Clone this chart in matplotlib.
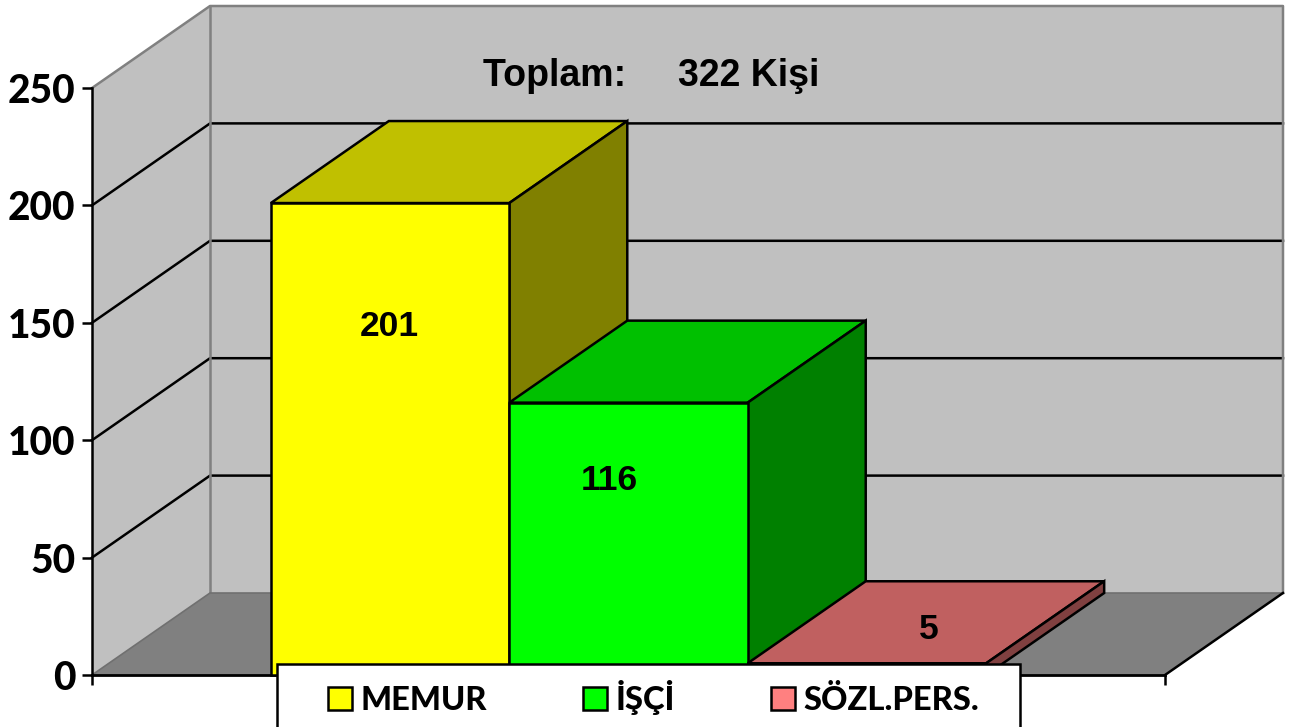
import matplotlib
matplotlib.use("Agg")
import matplotlib.pyplot as plt
from matplotlib.patches import Polygon, Patch, Rectangle

# chart data
categories = ["MEMUR", "İŞÇİ", "SÖZL.PERS."]
values = [201, 116, 5]
yticks = [0, 50, 100, 150, 200, 250]
total_text = "Toplam:     322 Kişi"

front_colors = ["#FFFF00", "#00FF00", "#FF8080"]
top_colors = ["#C0C000", "#00C000", "#C06060"]
side_colors = ["#808000", "#008000", "#804040"]
wall = "#C0C0C0"
floor = "#808080"
grey_edge = "#808080"

W, H = 1290, 727
fig = plt.figure(figsize=(W / 100, H / 100), dpi=100)
# front plane of the 3d box
ax = fig.add_axes([92 / W, 1 - 675 / H, 1073 / W, 587 / H])
xmax = 4.5
ymax = 250
ax.set_xlim(0, xmax)
ax.set_ylim(0, ymax)
ax.patch.set_visible(False)

# depth of the box in data units
dx = 118 / (1073 / xmax)
dy = 82 / (587 / ymax)


def poly(pts, fc, ec="black", lw=1.8, z=1):
    ax.add_patch(Polygon(pts, closed=True, facecolor=fc, edgecolor=ec, linewidth=lw,
                         joinstyle="miter", clip_on=False, zorder=z))


# walls and floor
poly([(0, 0), (dx, dy), (dx, ymax + dy), (0, ymax)], wall, ec="none", z=1)
poly([(dx, dy), (xmax + dx, dy), (xmax + dx, ymax + dy), (dx, ymax + dy)], wall, ec="none", z=1)
poly([(0, 0), (xmax, 0), (xmax + dx, dy), (dx, dy)], floor, ec="none", z=1)

for v in yticks[1:-1]:
    ax.plot([0, dx, xmax + dx], [v, v + dy, v + dy], color="black", lw=1.8, clip_on=False, zorder=1.2)

# grey outlines of the walls
ax.plot([0, dx, xmax + dx, xmax + dx], [ymax, ymax + dy, ymax + dy, dy], color=grey_edge, lw=1.8,
        clip_on=False, zorder=1.3)
ax.plot([dx, dx], [dy, ymax + dy], color=grey_edge, lw=1.8, clip_on=False, zorder=1.3)
ax.plot([0, dx, xmax + dx], [0, dy, dy], color="#707070", lw=1.2, clip_on=False, zorder=1.3)
ax.plot([xmax, xmax + dx], [0, dy], color="black", lw=1.8, clip_on=False, zorder=1.4)

# bars
left = 0.75
for i, v in enumerate(values):
    x0 = left + i
    x1 = x0 + 1
    z = 3 + i
    poly([(x0, v), (x1, v), (x1 + dx, v + dy), (x0 + dx, v + dy)], top_colors[i], z=z)
    poly([(x1, 0), (x1 + dx, dy), (x1 + dx, v + dy), (x1, v)], side_colors[i], z=z)
    ax.bar(x0, v, width=1, align="edge", color=front_colors[i], edgecolor="black", linewidth=1.8,
           clip_on=False, zorder=z + 0.1)

# value labels
label_x = [1.245, 2.17, 3.51]
label_y = [148.3, 82.8, 19.2]
for x, y, v in zip(label_x, label_y, values):
    ax.text(x, y, str(v), ha="center", va="center", fontsize=25.5, fontweight="bold",
            family="Liberation Sans", zorder=8)

ax.text(2.345, 255, total_text, ha="center", va="center", fontsize=27, fontweight="bold",
        family="Liberation Sans", zorder=8)

# axes
for s in ["top", "right"]:
    ax.spines[s].set_visible(False)
ax.spines["left"].set_linewidth(1.8)
ax.spines["bottom"].set_linewidth(2)
ax.spines["left"].set_zorder(2.5)
ax.spines["bottom"].set_zorder(2.5)
ax.set_yticks(yticks)
ax.set_xticks([0, xmax])
ax.set_xticklabels(["", ""])
ax.tick_params(axis="y", length=7, width=1.8, pad=5, labelsize=28)
ax.tick_params(axis="x", length=7, width=1.8)
for lab in ax.get_yticklabels():
    lab.set_fontfamily("Lato")
    lab.set_fontweight("black")

# legend box runs off the bottom of the figure
fig.add_artist(Rectangle((277 / W, -20 / H), 743 / W, (H - 664 + 20) / H, transform=fig.transFigure,
                         facecolor="white", edgecolor="black", linewidth=1.8, zorder=19))
handles = [Patch(facecolor=c, edgecolor="black", linewidth=1.8) for c in front_colors]
leg = fig.legend(handles, categories, ncol=3, loc="upper left", bbox_to_anchor=(328 / W, 1 - 680 / H),
                 bbox_transform=fig.transFigure, frameon=False, borderaxespad=0, borderpad=0,
                 handlelength=0.72, handleheight=0.72, handletextpad=0.27, columnspacing=2.95,
                 prop={"family": "Lato", "weight": "black", "size": 23.5})
leg.set_zorder(20)

fig.savefig("out.png", dpi=100)
